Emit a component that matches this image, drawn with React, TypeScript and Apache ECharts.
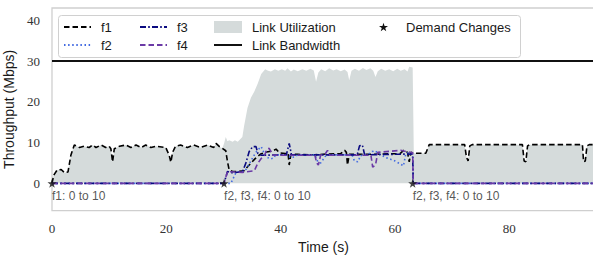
import React, { useEffect, useRef } from "react";
import * as echarts from "echarts";

// ---------- data (time in s, throughput in Mbps) ----------
const f1: [number, number][] = [
  [0, 0], [0.3, 2.0], [0.9, 3.3], [1.6, 3.4], [2.2, 2.6], [2.8, 2.8], [3.3, 6.9], [3.9, 9.4],
  [4.8, 8.8], [5.6, 9.1], [6.5, 8.8], [7.1, 9.4], [7.7, 8.8], [8.6, 9.4], [9.4, 8.8], [10.0, 9.1],
  [10.3, 8.5], [10.6, 5.3], [10.9, 8.5], [11.8, 9.1], [12.9, 9.4], [13.8, 8.8], [14.7, 9.4],
  [15.6, 8.8], [16.4, 9.4], [17.3, 8.8], [18.2, 9.1], [19.9, 8.8], [20.5, 6.9], [20.8, 5.2],
  [21.1, 7.6], [21.6, 9.1], [22.5, 9.4], [23.7, 8.8], [24.8, 9.4], [26.0, 8.8], [27.2, 9.4],
  [28.3, 8.8], [28.7, 9.8], [29.3, 9.0], [29.8, 8.6], [30.4, 8.0], [30.7, 5.3], [31.0, 3.3],
  [31.6, 2.9], [32.5, 2.9], [33.6, 3.1], [34.5, 4.5], [35.5, 6.0], [36.5, 7.2], [37.5, 7.7],
  [38.5, 7.9], [39.2, 8.4], [39.8, 7.5], [40.8, 7.3], [41.3, 7.4], [41.5, 4.5], [41.8, 7.1],
  [43.0, 7.1], [46.0, 7.0], [48.0, 7.2], [50.5, 7.3], [51.2, 8.1], [51.5, 7.6], [51.7, 4.5],
  [52.0, 7.1], [55.0, 7.1], [58.0, 7.2], [60.9, 7.3], [61.5, 8.1], [62.2, 7.6], [62.5, 5.3],
  [62.8, 7.6], [63.3, 7.4], [65.4, 7.4], [66.0, 9.5], [72.2, 9.5], [72.5, 6.5], [72.8, 5.5],
  [73.1, 9.2], [73.5, 9.5], [82.3, 9.5], [82.6, 5.5], [82.9, 5.3], [83.2, 9.2], [83.6, 9.5],
  [92.8, 9.5], [93.0, 5.3], [93.3, 5.5], [93.6, 9.2], [94.0, 9.5], [95, 9.5],
];

const f2: [number, number][] = [
  [0, 0], [31.3, 0], [31.8, 1.5], [32.2, 2.7], [33.3, 2.9], [34.0, 3.5], [34.8, 5.5], [35.6, 7.5],
  [36.3, 8.6], [36.6, 9.0], [37.0, 7.8], [37.5, 6.5], [38.2, 6.0], [38.8, 6.2], [39.1, 7.0],
  [41.2, 7.0], [41.7, 6.3], [42.4, 6.5], [43.0, 7.0], [46.0, 7.0], [46.5, 5.3], [47.0, 5.0],
  [47.5, 6.0], [48.0, 7.0], [52.5, 7.0], [52.9, 5.5], [53.5, 5.3], [54.0, 6.8], [55.4, 7.2],
  [56.0, 7.8], [56.5, 8.0], [57.0, 7.4], [58.5, 6.3], [60.0, 5.5], [61.5, 4.3], [61.9, 7.3],
  [62.5, 7.6], [63.1, 6.8], [63.2, 0], [95, 0],
];

const f3: [number, number][] = [
  [0, 0], [30.1, 0], [30.7, 2.9], [31.5, 2.6], [33.3, 2.8], [33.9, 4.9], [34.5, 7.8], [35.1, 9.0],
  [35.7, 9.0], [36.0, 7.4], [36.6, 6.9], [41.0, 7.0], [41.5, 9.8], [41.9, 7.0], [53.4, 7.0],
  [53.8, 9.2], [54.3, 9.4], [54.7, 7.0], [63.1, 7.2], [63.2, 0], [95, 0],
];

const f4: [number, number][] = [
  [0, 0], [30.1, 0], [30.7, 2.9], [33.3, 2.7], [35.4, 3.1], [36.0, 4.9], [36.6, 6.1], [37.2, 6.9],
  [37.6, 8.4], [38.0, 8.6], [38.4, 7.5], [38.6, 6.9], [46.0, 6.9], [46.3, 5.0], [46.6, 4.5],
  [47.0, 6.9], [47.8, 7.2], [48.2, 8.1], [48.6, 6.9], [55.8, 6.9], [56.1, 4.0], [56.6, 4.5],
  [57.0, 7.6], [61.0, 8.1], [62.0, 7.8], [63.1, 7.5], [63.2, 0], [95, 0],
];

const linkUtilization: [number, number][] = [
  [0, 0], [0.3, 2.0], [0.9, 3.3], [1.6, 3.4], [2.2, 2.6], [2.8, 2.8], [3.3, 6.9], [3.9, 9.4],
  [4.8, 8.8], [5.6, 9.1], [6.5, 8.8], [7.1, 9.4], [7.7, 8.8], [8.6, 9.4], [9.4, 8.8], [10.0, 9.1],
  [10.3, 8.5], [10.6, 5.3], [10.9, 8.5], [11.8, 9.1], [12.9, 9.4], [13.8, 8.8], [14.7, 9.4],
  [15.6, 8.8], [16.4, 9.4], [17.3, 8.8], [18.2, 9.1], [19.9, 8.8], [20.5, 6.9], [20.8, 5.2],
  [21.1, 7.6], [21.6, 9.1], [22.5, 9.4], [23.7, 8.8], [24.8, 9.4], [26.0, 8.8], [27.2, 9.4],
  [28.3, 8.8], [28.7, 9.8], [29.3, 9.0], [29.8, 8.6], [30.1, 9.8], [30.4, 11.4], [30.7, 10.3],
  [31.0, 10.6], [31.6, 10.2], [32.0, 10.6], [32.5, 10.2], [33.3, 11.4], [33.6, 14.0],
  [34.2, 18.5], [34.8, 21.0], [35.4, 22.5], [36.0, 24.5], [36.6, 26.8], [37.3, 28.0],
  [37.8, 27.6], [38.3, 27.4], [39.0, 28.0], [39.6, 27.6], [40.2, 28.0], [40.8, 27.6],
  [41.2, 28.2], [41.8, 27.4], [42.3, 27.9], [43.0, 27.5], [43.8, 28.0], [44.5, 27.6],
  [45.2, 28.1], [45.8, 27.7], [46.2, 24.9], [46.6, 27.2], [47.1, 28.0], [47.8, 27.5],
  [48.5, 28.2], [49.2, 27.7], [49.8, 28.0], [50.5, 27.5], [51.2, 27.9], [51.7, 27.3],
  [52.0, 25.3], [52.4, 27.6], [53.0, 28.1], [53.7, 27.6], [54.4, 28.3], [55.0, 27.8],
  [55.7, 28.2], [56.2, 27.6], [56.6, 26.1], [57.0, 27.5], [57.6, 28.1], [58.3, 27.6],
  [59.0, 28.0], [59.7, 27.5], [60.4, 28.1], [61.0, 27.6], [61.7, 28.0], [62.2, 27.4],
  [62.5, 28.6], [63.1, 28.4], [63.3, 7.4], [65.4, 7.4], [66.0, 9.5], [72.2, 9.5], [72.5, 6.5],
  [72.8, 5.5], [73.1, 9.2], [73.5, 9.5], [82.3, 9.5], [82.6, 5.5], [82.9, 5.3], [83.2, 9.2],
  [83.6, 9.5], [92.8, 9.5], [93.0, 5.3], [93.3, 5.5], [93.6, 9.2], [94.0, 9.5], [95, 9.5],
];

const linkBandwidth: [number, number][] = [[0, 30], [95, 30]];
const demandChanges: [number, number][] = [[0, 0], [30.1, 0], [63.1, 0]];
const demandLabels = ["f1: 0 to 10", "f2, f3, f4: 0 to 10", "f2, f3, f4: 0 to 10"];

const xTicks = [0, 20, 40, 60, 80];
const yTicks = [0, 10, 20, 30, 40];

const SANS = "'Liberation Sans', Arial, sans-serif";
const SERIF = "'Liberation Serif', 'Times New Roman', serif";
const STAR =
  "path://M50,0 L61.2,34.5 L97.6,34.5 L68.2,55.9 L79.4,90.5 L50,69.1 L20.6,90.5 L31.8,55.9 L2.4,34.5 L38.8,34.5 Z";

export default function App() {
  const ref = useRef<HTMLDivElement>(null);

  useEffect(() => {
    if (!ref.current) return;
    const chart = echarts.init(ref.current, null, { renderer: "svg" });

    const legendBase: any = {
      orient: "vertical",
      padding: 0,
      itemGap: 4,
      itemWidth: 27,
      itemHeight: 12,
      top: 20,
      selectedMode: false,
      itemStyle: { opacity: 0 },
      textStyle: { fontFamily: SANS, fontSize: 13, color: "#1a1a1a", lineHeight: 14, padding: [0, 0, 0, 5] },
    };

    const option: any = {
      animation: false,
      backgroundColor: "#fff",
      grid: {
        left: 52,
        top: 8,
        width: 543,
        height: 202.7,
        show: true,
        borderColor: "#cfcfcf",
        borderWidth: 1.3,
        backgroundColor: "transparent",
        containLabel: false,
        outerBoundsMode: "none",
      },
      xAxis: {
        type: "value",
        min: 0,
        max: 95,
        interval: 20,
        axisLine: { show: false },
        axisTick: { show: false },
        splitLine: { show: false },
        axisLabel: { fontFamily: SERIF, fontSize: 13, color: "#333333", margin: 11, customValues: xTicks },
        name: "Time (s)",
        nameLocation: "middle",
        nameGap: 25,
        nameTextStyle: { fontFamily: SANS, fontSize: 14, color: "#1a1a1a" },
      },
      yAxis: {
        type: "value",
        min: -6.7,
        max: 43,
        axisLine: { show: false },
        axisTick: { show: false },
        splitLine: { show: false },
        axisLabel: { fontFamily: SERIF, fontSize: 13, color: "#333333", margin: 12, customValues: yTicks },
        name: "Throughput (Mbps)",
        nameLocation: "middle",
        nameGap: 30,
        nameTextStyle: { fontFamily: SANS, fontSize: 14, color: "#1a1a1a" },
      },
      legend: [
        { ...legendBase, left: 63, data: ["f1", "f2"] },
        { ...legendBase, left: 139, data: ["f3", "f4"] },
        {
          ...legendBase,
          left: 213,
          itemWidth: 28,
          data: [
            { name: "Link Utilization", icon: "rect", itemStyle: { opacity: 1, color: "#d5dbdb" } },
            "Link Bandwidth",
          ],
        },
        {
          ...legendBase,
          left: 379,
          itemWidth: 9,
          itemHeight: 9,
          itemStyle: { opacity: 1 },
          textStyle: { ...legendBase.textStyle, padding: [0, 0, 0, 13] },
          data: ["Demand Changes"],
        },
      ],
      graphic: [
        {
          type: "rect",
          left: 58,
          top: 15,
          shape: { width: 462, height: 42, r: 3 },
          style: { fill: "rgba(255,255,255,0.85)", stroke: "#d0d0d0", lineWidth: 1 },
          z: 3,
          silent: true,
        },
      ],
      series: [
        {
          name: "Link Utilization",
          type: "line",
          data: linkUtilization,
          symbol: "none",
          color: "#d5dbdb",
          lineStyle: { width: 0, color: "#d5dbdb" },
          areaStyle: { color: "#d5dbdb", opacity: 1 },
          z: 1,
        },
        {
          name: "f1",
          type: "line",
          data: f1,
          symbol: "none",
          color: "#000000",
          lineStyle: { width: 1.6, type: [5.5, 3], color: "#000000" },
          z: 2,
        },
        {
          name: "f2",
          type: "line",
          data: f2,
          symbol: "none",
          color: "#4169e1",
          lineStyle: { width: 1.6, type: [1.5, 2.6], color: "#4169e1" },
          z: 2,
        },
        {
          name: "f3",
          type: "line",
          data: f3,
          symbol: "none",
          color: "#0a0a80",
          lineStyle: { width: 1.6, type: [6, 2.2, 1.6, 2.2], color: "#0a0a80" },
          z: 2,
        },
        {
          name: "f4",
          type: "line",
          data: f4,
          symbol: "none",
          color: "#6b3aa6",
          lineStyle: { width: 1.6, type: [5.5, 3], color: "#6b3aa6" },
          z: 2,
        },
        {
          name: "Link Bandwidth",
          type: "line",
          data: linkBandwidth,
          symbol: "none",
          color: "#111111",
          lineStyle: { width: 1.8, type: "solid", color: "#111111" },
          z: 2,
        },
        {
          name: "Demand Changes",
          type: "scatter",
          data: demandChanges,
          symbol: STAR,
          symbolSize: 9,
          color: "#111111",
          z: 5,
          label: {
            show: true,
            position: [4.5, 11],
            align: "left",
            verticalAlign: "top",
            fontFamily: SANS,
            fontSize: 12,
            color: "#2a2a2a",
            formatter: (p: any) => demandLabels[p.dataIndex],
          },
        },
      ],
    };

    chart.setOption(option);
    return () => chart.dispose();
  }, []);

  return (
    <div
      ref={ref}
      style={{ position: "fixed", left: 0, top: 0, width: 593, height: 257, background: "#fff" }}
    />
  );
}
